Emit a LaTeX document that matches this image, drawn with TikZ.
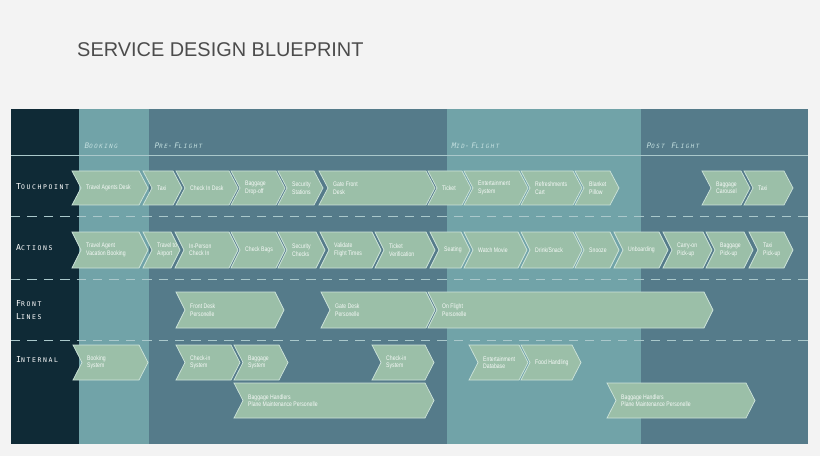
\documentclass[tikz,border=0pt]{standalone}
\usepackage{fontspec}
\setmainfont{Liberation Sans}
\newfontfamily\chevfont[FakeStretch=0.78]{Liberation Sans}
\newfontfamily\lblfont[LetterSpace=25]{DejaVu Sans Mono}
\newfontfamily\phasefont[LetterSpace=25,FakeSlant=0.2]{DejaVu Sans Mono}
\definecolor{pagebg}{HTML}{F3F3F3}
\definecolor{darkcol}{HTML}{0F2A36}
\definecolor{lightcol}{HTML}{71A3A8}
\definecolor{midcol}{HTML}{557B8A}
\definecolor{chevfill}{HTML}{9BBFA8}
\definecolor{chevline}{HTML}{CDE3DA}
\definecolor{phasetext}{HTML}{C4E0E0}
\tikzset{
  chevbox/.style={fill=chevfill, draw=chevline, line width=0.6pt, line join=miter},
  chevtext/.style={anchor=west, align=left, inner sep=0pt, text=white!92!chevfill,
                   font=\chevfont\fontsize{5.6}{6.4}\selectfont},
  rowlabel/.style={anchor=west, align=left, inner sep=0pt, text=white, font=\lblfont\fontsize{7}{11}\selectfont},
  phaselabel/.style={anchor=west, inner sep=0pt, text=phasetext, font=\phasefont\fontsize{6.5}{8}\selectfont},
  divider/.style={draw=lightcol!60!white, dashed, dash pattern=on 8pt off 6pt, line width=0.6pt}
}
% chevron: name, x1, x2, y1, y2, text
\newcommand\chev[6]{%
  \draw[chevbox] (#2,#4) -- ({#3-9},#4) -- (#3,{(#4+#5)/2}) -- ({#3-9},#5) -- (#2,#5) -- ({#2+9},{(#4+#5)/2}) -- cycle;
  \node[chevtext] (#1) at ({#2+14},{(#4+#5)/2}) {#6};}
\begin{document}
\begin{tikzpicture}[x=0.03cm,y=-0.03cm]
  \fill[pagebg] (0,0) rectangle (820,456);
  \useasboundingbox (0,0) rectangle (820,456);
  \node[anchor=west, inner sep=0pt, text=black!70, font=\fontsize{17}{20}\selectfont] (title) at (77,50) {SERVICE DESIGN BLUEPRINT};

  % columns
  \fill[darkcol] (11,109) rectangle (79,444);
  \fill[lightcol] (79,109) rectangle (149,444);
  \fill[midcol] (149,109) rectangle (447,444);
  \fill[lightcol] (447,109) rectangle (641,444);
  \fill[midcol] (641,109) rectangle (808,444);
  \draw[lightcol!60!white, line width=0.6pt] (11,155) -- (808,155);
  \foreach \yy in {216,279,340} \draw[divider] (11,\yy) -- (808,\yy);

  % phases
  \node[phaselabel] (booking) at (84,146) {B{\fontsize{5}{8}\selectfont OOKING}};
  \node[phaselabel] (preflight) at (154,146) {P{\fontsize{5}{8}\selectfont RE}-F{\fontsize{5}{8}\selectfont LIGHT}};
  \node[phaselabel] (midflight) at (451,146) {M{\fontsize{5}{8}\selectfont ID}-F{\fontsize{5}{8}\selectfont LIGHT}};
  \node[phaselabel] (postflight) at (646,146) {P{\fontsize{5}{8}\selectfont OST} F{\fontsize{5}{8}\selectfont LIGHT}};

  % rows
  \node[rowlabel] (touch) at (16,187) {T{\fontsize{5.5}{8}\selectfont OUCHPOINT}};
  \node[rowlabel] (actions) at (16,248) {A{\fontsize{5.5}{8}\selectfont CTIONS}};
  \node[rowlabel] (front) at (16,310) {F{\fontsize{5.5}{8}\selectfont RONT}\\L{\fontsize{5.5}{8}\selectfont INES}};
  \node[rowlabel] (internal) at (16,360) {I{\fontsize{5.5}{8}\selectfont NTERNAL}};

  % touchpoint
  \chev{tp1}{72}{148}{171}{205}{Travel Agents Desk}
  \chev{tp2}{143}{182}{171}{205}{Taxi}
  \chev{tp3}{176}{238}{171}{205}{Check In Desk}
  \chev{tp4}{231}{285}{171}{205}{Baggage\\Drop-off}
  \chev{tp5}{278}{323}{171}{205}{Security\\Stations}
  \chev{tp6}{319}{435}{171}{205}{Gate Front\\Desk}
  \chev{tp7}{428}{471}{171}{205}{Ticket}
  \chev{tp8}{464}{528}{171}{205}{Entertainment\\System}
  \chev{tp9}{521}{582}{171}{205}{Refreshments\\Cart}
  \chev{tp10}{575}{619}{171}{205}{Blanket\\Pillow}
  \chev{tp11}{702}{750}{171}{205}{Baggage\\Carousel}
  \chev{tp12}{744}{793}{171}{205}{Taxi}

  % actions
  \chev{ac1}{72}{148}{232}{268}{Travel Agent\\Vacation Booking}
  \chev{ac2}{143}{180}{232}{268}{Travel to\\Airport}
  \chev{ac3}{175}{238}{232}{268}{In-Person\\Check In}
  \chev{ac4}{231}{285}{232}{268}{Check Bags}
  \chev{ac5}{278}{325}{232}{268}{Security\\Checks}
  \chev{ac6}{320}{381}{232}{268}{Validate\\Flight Times}
  \chev{ac7}{375}{435}{232}{268}{Ticket\\Verification}
  \chev{ac8}{430}{470}{232}{268}{Seating}
  \chev{ac9}{464}{527}{232}{268}{Watch Movie}
  \chev{ac10}{521}{582}{232}{268}{Drink/Snack}
  \chev{ac11}{575}{619}{232}{268}{Snooze}
  \chev{ac12}{614}{668}{232}{268}{Unboarding}
  \chev{ac13}{663}{712}{232}{268}{Carry-on\\Pick-up}
  \chev{ac14}{706}{753}{232}{268}{Baggage\\Pick-up}
  \chev{ac15}{749}{793}{232}{268}{Taxi\\Pick-up}

  % front lines
  \chev{fl1}{176}{284}{292}{328}{Front Desk\\Personelle}
  \chev{fl2}{321}{435}{292}{328}{Gate Desk\\Personelle}
  \chev{fl3}{428}{713}{292}{328}{On Flight\\Personelle}

  % internal
  \chev{in1}{73}{148}{345}{380}{Booking\\System}
  \chev{in2}{176}{240}{345}{380}{Check-in\\System}
  \chev{in3}{234}{288}{345}{380}{Baggage\\System}
  \chev{in4}{372}{434}{345}{380}{Check-in\\System}
  \chev{in5}{469}{528}{345}{380}{Entertainment\\Database}
  \chev{in6}{521}{581}{345}{380}{Food Handling}
  \chev{in7}{234}{434}{383}{418}{Baggage Handlers\\Plane Maintenance Personelle}
  \chev{in8}{607}{755}{383}{418}{Baggage Handlers\\Plane Maintenance Personelle}
\end{tikzpicture}
\end{document}
